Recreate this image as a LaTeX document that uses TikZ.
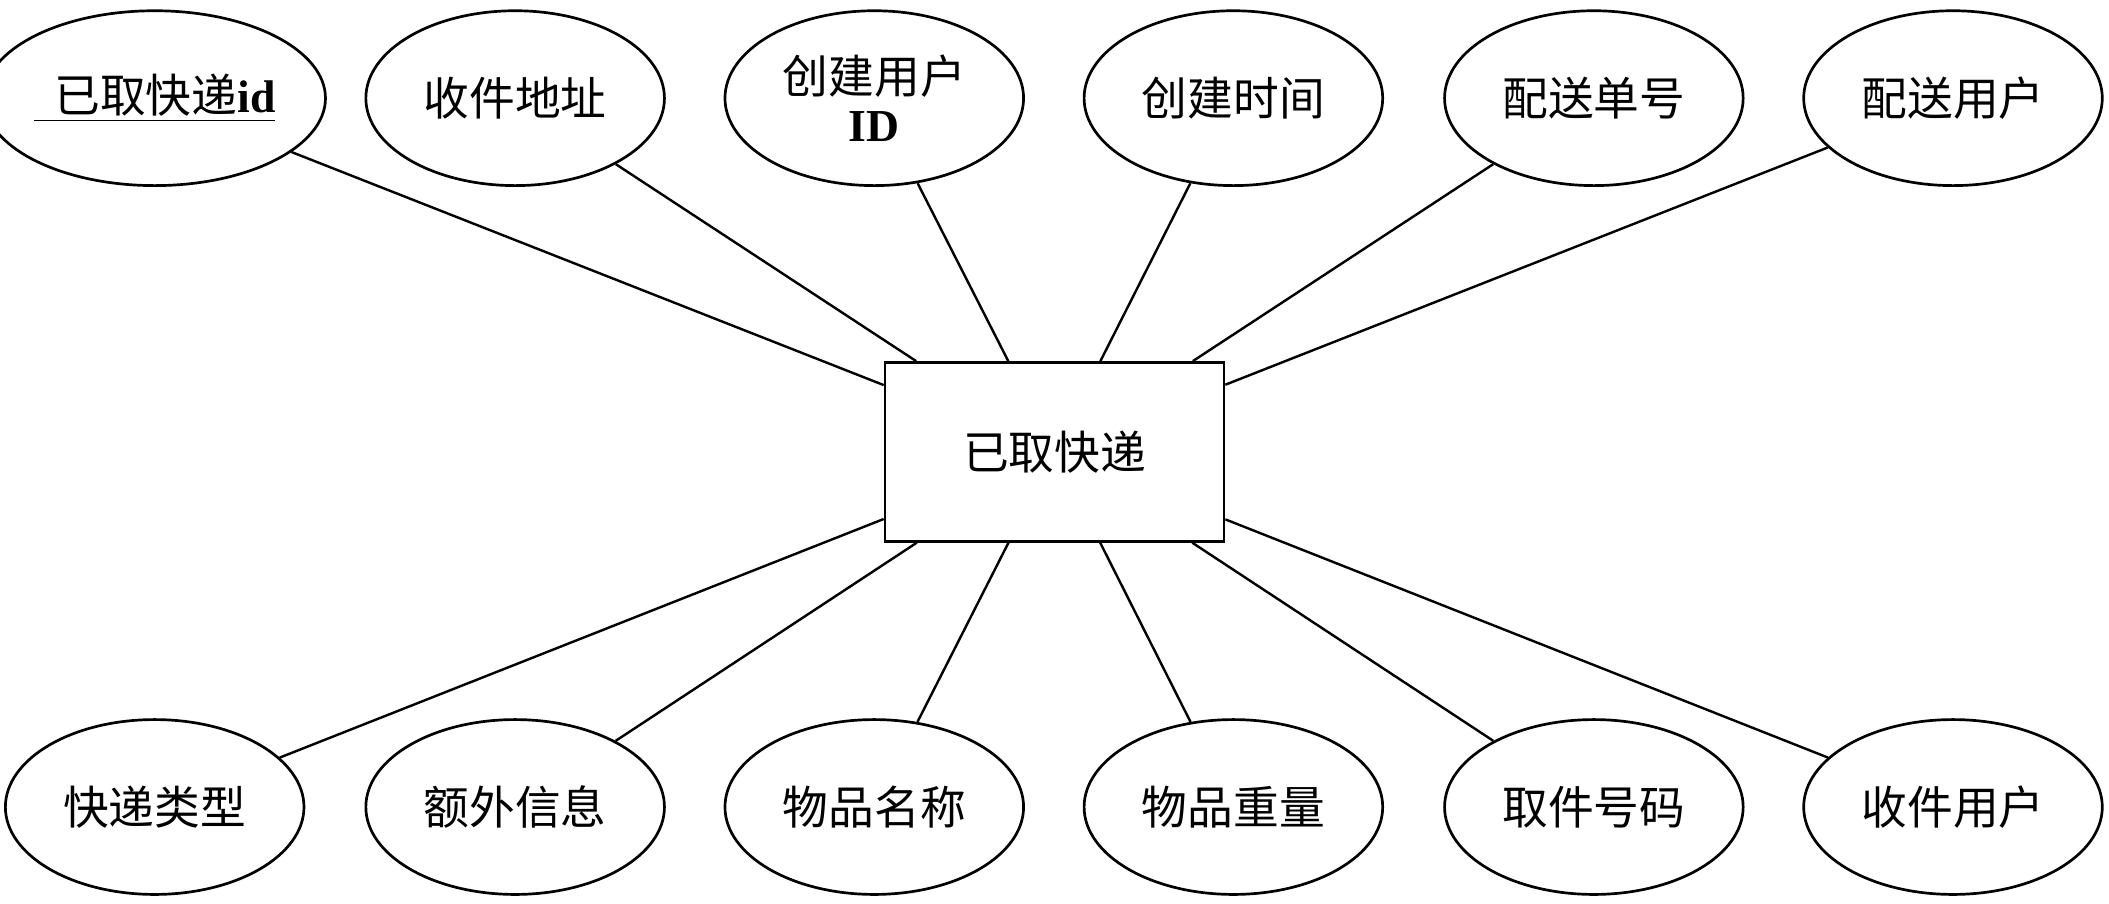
\documentclass[tikz,border=0pt]{standalone}
\usepackage{fontspec}
\setmainfont{Liberation Serif}
\newfontfamily\cjk{Noto Sans CJK SC}
\usetikzlibrary{shapes.geometric}
\begin{document}
\begin{tikzpicture}[x=0.5pt,y=-0.5pt,
  attr/.style={ellipse,draw,line width=1pt,minimum width=111pt,minimum height=65pt,inner sep=0pt,font=\cjk\fontsize{17}{20}\selectfont,align=center},
  ent/.style={rectangle,draw,line width=1pt,minimum width=126pt,minimum height=66.5pt,font=\cjk\fontsize{17}{20}\selectfont},
  conn/.style={line width=0.9pt}]
\useasboundingbox (0,0) rectangle (1568,672);
\node[ent] (e) at (784,336) {已取快递};
\node[attr] (a1) at (115,73) {\underline{\ \ 已取快递\textbf{\rmfamily id}}};
\node[attr] (a2) at (383,73) {收件地址};
\node[attr] (a3) at (650,73) {创建用户\\[-2pt]\textbf{\rmfamily ID}};
\node[attr] (a4) at (917,73) {创建时间};
\node[attr] (a5) at (1185,73) {配送单号};
\node[attr] (a6) at (1452,73) {配送用户};
\node[attr] (b1) at (115,600) {快递类型};
\node[attr] (b2) at (383,600) {额外信息};
\node[attr] (b3) at (650,600) {物品名称};
\node[attr] (b4) at (917,600) {物品重量};
\node[attr] (b5) at (1185,600) {取件号码};
\node[attr] (b6) at (1452,600) {收件用户};
\foreach \n in {a1,a2,a3,a4,a5,a6,b1,b2,b3,b4,b5,b6} \draw[conn] (\n) -- (e);
\end{tikzpicture}
\end{document}
